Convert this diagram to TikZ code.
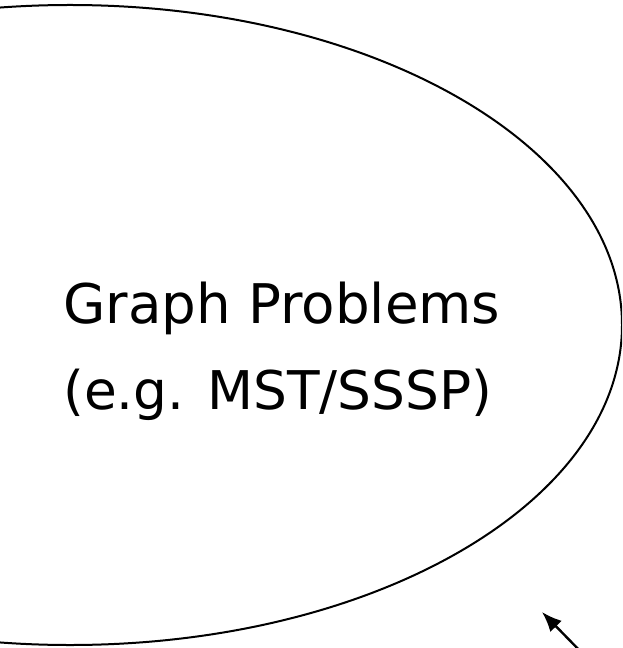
\documentclass[tikz,border=0pt]{standalone}
\usepackage{fontspec}
\setmainfont{DejaVu Sans}
\usetikzlibrary{arrows.meta,shapes}
\tikzset{
  outline/.style = {draw, ellipse, line width=1.5pt, inner sep=0pt},
  label-1/.style = {font=\fontsize{41}{49}\selectfont, inner sep=0pt, anchor=base west},
  label-2/.style = {label-1, font=\fontsize{40}{48}\selectfont},
  pointer/.style = {draw, line width=1.8pt, -{Latex[length=15pt,width=12pt]}}
}
\begin{document}
\begin{tikzpicture}[x=0.75pt, y=-0.75pt]
	\useasboundingbox (0,0) rectangle (622,648);
	\begin{scope}
		\clip (0,0) rectangle (622,648);
		\node[outline, minimum width=828pt, minimum height=480pt] (problems) at (70,325) {};
		\coordinate (tail) at (584,655);
		\coordinate (head) at (542,612);
		\draw[pointer] (tail) -- (head);
	\end{scope}
	\node[label-1] (title) at (63,323) {Graph Problems};
	\node[label-2] (example) at (63,409) {(e.g. MST/SSSP)};
\end{tikzpicture}
\end{document}
